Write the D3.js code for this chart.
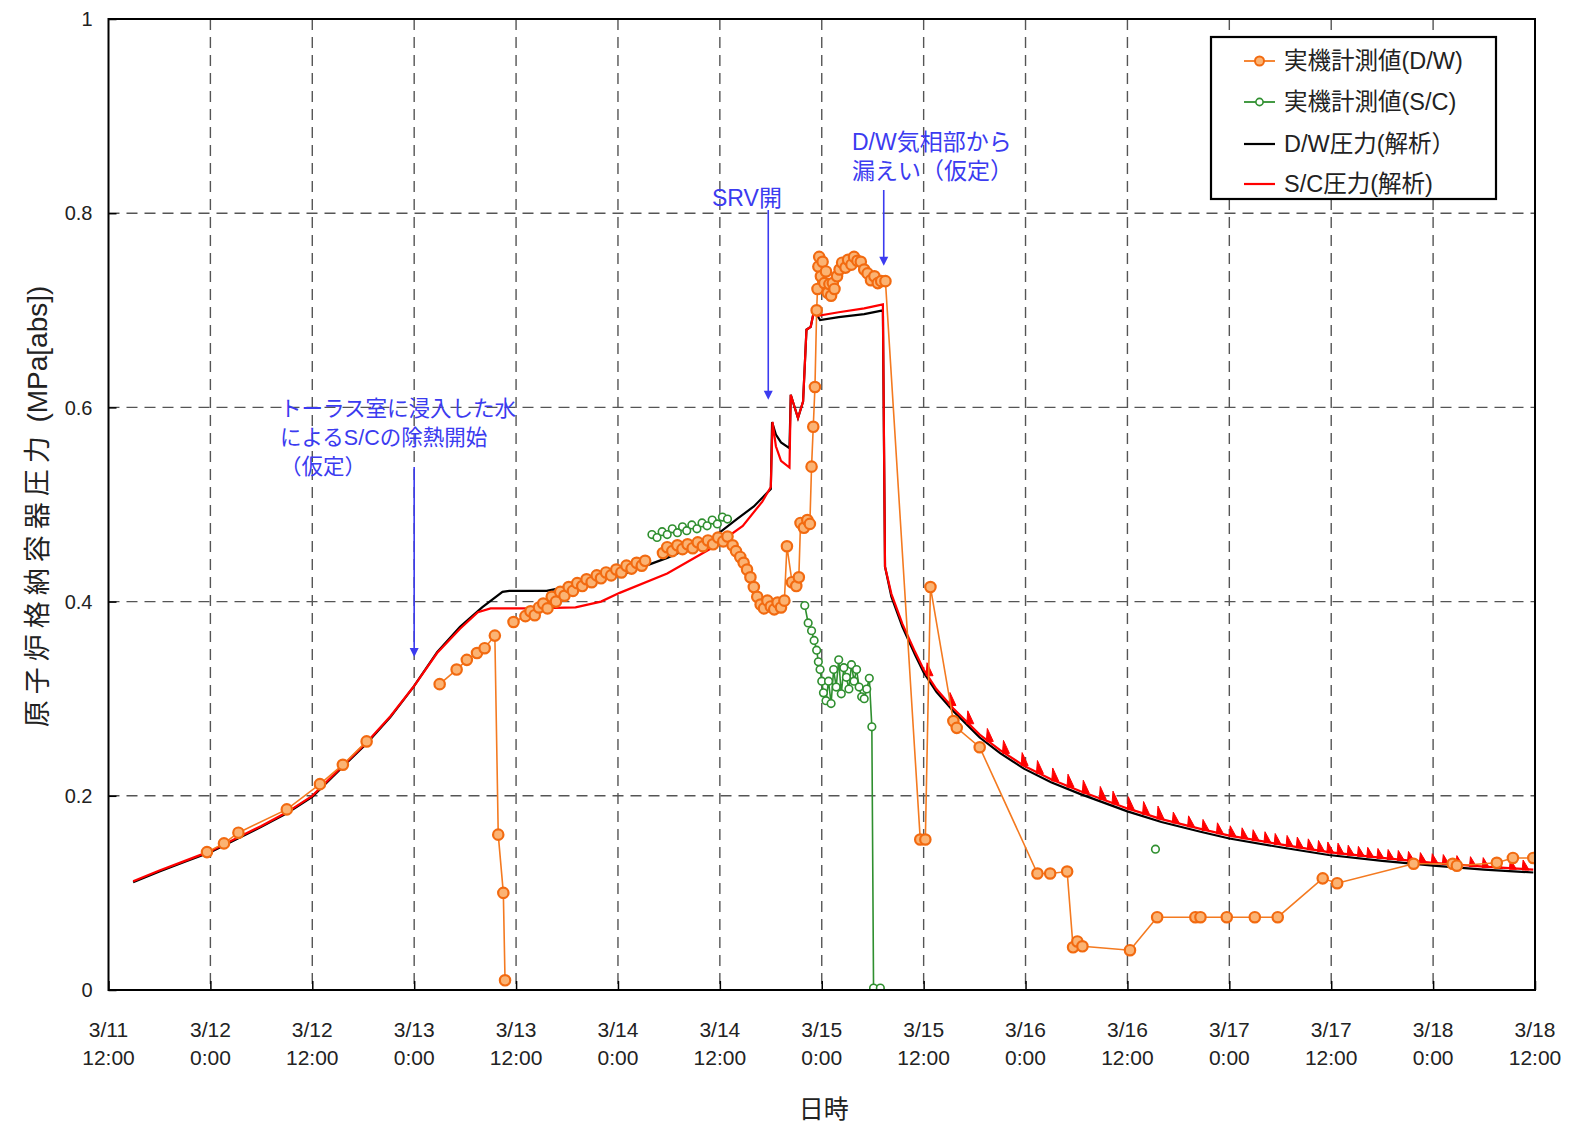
<!DOCTYPE html>
<html><head><meta charset="utf-8">
<script src="https://cdn.jsdelivr.net/npm/d3@7"></script>
<style>body{margin:0;background:#fff}</style>
</head><body>
<svg id="c" width="1576" height="1124"></svg>
<script>
// time: hours elapsed since 3/11 12:00
const xTicks = [0,12,24,36,48,60,72,84,96,108,120,132,144,156,168];
const xTickDates = ["3/11","3/12","3/12","3/13","3/13","3/14","3/14","3/15","3/15","3/16","3/16","3/17","3/17","3/18","3/18"];
const xTickTimes = ["12:00","0:00","12:00","0:00","12:00","0:00","12:00","0:00","12:00","0:00","12:00","0:00","12:00","0:00","12:00"];
const yTicks = [0,0.2,0.4,0.6,0.8,1];
const yTickLabels = ["0","0.2","0.4","0.6","0.8","1"];

const seriesNames = ["実機計測値(D/W)","実機計測値(S/C)","D/W圧力(解析）","S/C圧力(解析)"];

// measured D/W (null = gap)
const dwMeasured = [
 [11.6,0.142],[13.6,0.151],[15.3,0.162],[21.0,0.186],[24.9,0.212],[27.6,0.232],[30.4,0.256],
 null,
 [39.0,0.315],[41.0,0.330],[42.2,0.340],[43.4,0.347],[44.3,0.352],[45.5,0.365],[45.9,0.160],[46.5,0.100],[46.7,0.010],
 null,
 [47.7,0.379],[49.1,0.385],[49.7,0.390],[50.2,0.386],[50.7,0.394],[51.2,0.398],[51.7,0.393],[52.2,0.405],[52.7,0.400],[53.2,0.410],[53.7,0.406],[54.2,0.415],[54.7,0.411],[55.2,0.419],[55.8,0.416],[56.3,0.423],[56.9,0.420],[57.5,0.427],[58.0,0.424],[58.6,0.430],[59.2,0.427],[59.8,0.433],[60.4,0.430],[61.0,0.437],[61.6,0.434],[62.2,0.440],[62.8,0.437],[63.2,0.442],
 null,
 [65.3,0.450],[65.8,0.456],[66.4,0.452],[67.0,0.458],[67.6,0.454],[68.2,0.459],[68.8,0.455],[69.4,0.461],[70.0,0.457],[70.6,0.463],[71.2,0.459],[71.8,0.466],[72.4,0.462],[72.9,0.467],[73.5,0.458],[73.9,0.452],[74.4,0.446],[74.8,0.440],[75.2,0.433],[75.6,0.425],[76.0,0.415],[76.4,0.405],[76.8,0.397],[77.2,0.393],[77.6,0.401],[78.0,0.395],[78.4,0.392],[78.8,0.399],[79.2,0.394],[79.6,0.401],[79.9,0.457],[80.5,0.420],[81.0,0.416],[81.3,0.425],[81.5,0.481],[81.9,0.476],[82.3,0.484],[82.6,0.480],[82.8,0.539],[83.0,0.580],[83.2,0.621],[83.4,0.700],
 [83.5,0.722],[83.6,0.745],[83.7,0.755],[83.9,0.735],[84.1,0.750],[84.3,0.728],[84.5,0.740],[84.7,0.718],[84.9,0.727],[85.1,0.715],[85.3,0.728],[85.5,0.722],[85.8,0.735],[86.1,0.742],[86.4,0.749],[86.8,0.744],[87.1,0.752],[87.5,0.747],[87.8,0.755],[88.2,0.751],[88.6,0.750],[89.0,0.742],[89.4,0.738],[89.8,0.731],[90.2,0.735],[90.6,0.728],[91.0,0.730],[91.5,0.730],
 [95.6,0.155],[96.2,0.155],[96.8,0.415],[99.5,0.277],[99.9,0.270],[102.6,0.250],[109.4,0.120],[110.9,0.120],[112.9,0.122],[113.6,0.044],[114.1,0.050],[114.7,0.045],[120.3,0.041],[123.5,0.075],[128.0,0.075],[128.6,0.075],[131.7,0.075],[135.0,0.075],[137.7,0.075],[143.0,0.115],[144.7,0.110],[153.7,0.130],[158.3,0.130],[158.8,0.128],[163.5,0.131],[165.4,0.136],[167.8,0.136]
];

// measured S/C
const scMeasured = [
 [64.0,0.469],[64.6,0.466],[65.2,0.472],[65.8,0.469],[66.4,0.475],[67.0,0.471],[67.6,0.477],[68.1,0.473],[68.7,0.479],[69.3,0.475],[69.9,0.481],[70.5,0.478],[71.1,0.484],[71.7,0.480],[72.3,0.487],[72.9,0.485],
 null,
 [82.0,0.396],[82.4,0.378],[82.8,0.370],[83.1,0.360],[83.4,0.350],[83.6,0.338],[83.8,0.330],[84.0,0.318],[84.2,0.306],[84.5,0.298],[84.8,0.318],[85.1,0.295],[85.4,0.330],[85.7,0.312],[86.0,0.340],[86.3,0.305],[86.6,0.332],[86.9,0.322],[87.2,0.310],[87.5,0.335],[87.8,0.318],[88.1,0.330],[88.4,0.312],[88.7,0.302],[89.0,0.300],[89.3,0.310],[89.6,0.321],[89.9,0.271],[90.1,0.002],[90.9,0.002],
 null,
 [123.3,0.145]
];

// analysis D/W
const dwAnalysis = [
 [2.9,0.111],[6,0.122],[9,0.132],[12,0.142],[15,0.155],[18,0.168],[21,0.182],[24,0.199],[27.6,0.230],[30.4,0.254],[33.2,0.281],[35.9,0.312],[38.7,0.348],[41.4,0.374],[44.0,0.394],[46.4,0.410],[47.2,0.411],[51.6,0.411],[55,0.417],[60.2,0.427],[65.8,0.445],[71.2,0.466],[74.0,0.485],[76,0.498],[78.0,0.516],[78.15,0.585],[78.6,0.572],[79.2,0.564],[80.2,0.558],[80.35,0.613],[81.2,0.589],[81.8,0.606],[82.2,0.680],[82.7,0.683],[83.1,0.700],[83.8,0.690],[86,0.693],[89,0.696],[91.2,0.700],[91.45,0.436],[92.2,0.405],[93.5,0.374],[95,0.345],[96,0.327],[97.5,0.307],[99.5,0.287],[102.6,0.260],[105,0.244],[107.8,0.228],[111,0.214],[114.4,0.202],[120,0.184],[124,0.173],[128.6,0.163],[132,0.156],[138,0.147],[143.7,0.139],[150,0.133],[156,0.128],[162,0.124],[167.8,0.121]
];

// analysis S/C
const scAnalysis = [
 [2.9,0.112],[6,0.123],[9,0.133],[12,0.143],[15,0.156],[18,0.169],[21,0.183],[24,0.200],[27.6,0.231],[30.4,0.255],[33.2,0.282],[35.9,0.312],[38.7,0.347],[41.4,0.372],[43.5,0.389],[45,0.393],[50,0.393],[55,0.394],[58,0.400],[60.2,0.409],[65.8,0.429],[71.2,0.456],[74.7,0.478],[77,0.503],[78.0,0.518],[78.2,0.585],[78.6,0.560],[79.2,0.545],[80.2,0.538],[80.35,0.613],[81.2,0.589],[81.8,0.606],[82.2,0.680],[82.7,0.683],[83.1,0.700],[83.4,0.694],[86,0.698],[89,0.702],[91.2,0.706],[91.45,0.436],[92.2,0.408],[93.5,0.377],[95,0.348],[96,0.330],[97.5,0.310],[99.5,0.290],[102.6,0.263],[105,0.247],[107.8,0.231],[111,0.217],[114.4,0.205],[120,0.187],[124,0.176],[128.6,0.166],[132,0.159],[138,0.150],[143.7,0.142],[150,0.136],[156,0.131],[162,0.127],[167.8,0.124]
];

// times of the S/C sawtooth pressure spikes
const scSpikeTimes = [96.4,99.1,101.2,103.5,105.4,107.6,109.4,111.2,113.0,114.8,116.8,118.3,120.1,121.9,123.6,125.4,127.2,128.9,130.6,132.1,133.5,134.8,136.2,137.4,138.8,140.0,141.3,142.5,143.6,144.8,146.0,147.2,148.3,149.5,150.7,151.9,153.1,154.5,155.9,157.2,158.8,160.4,161.9,163.5,165.1,166.6];

// annotations
const annoTexts = [["トーラス室に浸入した水","によるS/Cの除熱開始","（仮定）"],["SRV開"],["D/W気相部から","漏えい（仮定）"]];
const annoArrowTimes = [36, 77.7, 91.3];
const annoArrowValues = [0.343, 0.608, 0.746];

const svg = d3.select("#c");
const L=108.5, R=1535, T=19, B=990;
const x = d3.scaleLinear().domain([0,168]).range([L,R]);
const y = d3.scaleLinear().domain([0,1]).range([B,T]);
const FONT = "'Liberation Sans','Noto Sans CJK JP',sans-serif";

// grid
const g = svg.append("g");
g.selectAll(".vg").data(xTicks.slice(1,-1)).enter().append("line")
 .attr("x1",d=>x(d)).attr("x2",d=>x(d)).attr("y1",T).attr("y2",B)
 .attr("stroke","#555").attr("stroke-width",1.4).attr("stroke-dasharray","11,7");
g.selectAll(".hg").data(yTicks.slice(1,-1)).enter().append("line")
 .attr("x1",L).attr("x2",R).attr("y1",d=>y(d)).attr("y2",d=>y(d))
 .attr("stroke","#555").attr("stroke-width",1.4).attr("stroke-dasharray","11,7");

// axes
const xAxis = d3.axisBottom(x).tickValues(xTicks).tickSize(-9).tickFormat("");
const ax = svg.append("g").attr("transform",`translate(0,${B})`).call(xAxis);
ax.select(".domain").remove();
ax.selectAll(".tick line").attr("stroke","#000").attr("stroke-width",1.5);
const yAxis = d3.axisLeft(y).tickValues(yTicks).tickSize(-8).tickFormat("");
const ay = svg.append("g").attr("transform",`translate(${L},0)`).call(yAxis);
ay.select(".domain").remove();
ay.selectAll(".tick line").attr("stroke","#000").attr("stroke-width",1.5);

// tick labels
const xl = svg.append("g").attr("font-family",FONT).attr("font-size",21).attr("fill","#222").attr("text-anchor","middle");
xTicks.forEach((t,i)=>{
  xl.append("text").attr("x",x(t)).attr("y",B+47).text(xTickDates[i]);
  xl.append("text").attr("x",x(t)).attr("y",B+75).text(xTickTimes[i]);
});
const yl = svg.append("g").attr("font-family",FONT).attr("font-size",20).attr("fill","#222").attr("text-anchor","end");
yTicks.forEach((v,i)=>{
  yl.append("text").attr("x",L-16).attr("y",y(v)).attr("dy","0.36em").text(yTickLabels[i]);
});

// axis titles
svg.append("text").attr("x",(L+R)/2+2).attr("y",1118).attr("text-anchor","middle")
 .attr("font-family",FONT).attr("font-size",25).attr("fill","#222").text("日時");
const yt = svg.append("text").attr("transform",`translate(47,${(T+B)/2+2}) rotate(-90)`).attr("text-anchor","middle")
 .attr("font-family",FONT).attr("fill","#222");
yt.append("tspan").attr("font-size",27).attr("letter-spacing",6).text("原子炉格納容器圧力");
yt.append("tspan").attr("font-size",28).text(" (MPa[abs])");

// lines
const line = d3.line().defined(d=>d!==null).x(d=>x(d[0])).y(d=>y(d[1]));
const clipId="pc";
svg.append("clipPath").attr("id",clipId).append("rect").attr("x",L).attr("y",T-10).attr("width",R-L).attr("height",B-T+10);
const plot = svg.append("g").attr("clip-path",`url(#${clipId})`);

plot.append("path").datum(dwAnalysis).attr("d",line).attr("fill","none").attr("stroke","#000").attr("stroke-width",2.2);
plot.append("path").datum(scAnalysis).attr("d",line).attr("fill","none").attr("stroke","#ff0000").attr("stroke-width",2.2);

// spikes on S/C analysis line
const bis = d3.bisector(d=>d[0]).left;
function scAt(t){ const i = Math.max(1,bis(scAnalysis,t)); const a=scAnalysis[i-1], b=scAnalysis[i]; const f=(t-a[0])/(b[0]-a[0]); return a[1]+(b[1]-a[1])*f; }
plot.selectAll(".spk").data(scSpikeTimes).enter().append("path")
 .attr("d",(t,i)=>{ const px=x(t), py=y(scAt(t)); const h = i<15?12:(i<30?10:9); return `M${px-1},${py+1}L${px},${py-h}L${px+6},${py+1}Z`; })
 .attr("fill","#ff0000").attr("stroke","#ff0000").attr("stroke-width",1);

// measured lines
plot.append("path").datum(dwMeasured).attr("d",line).attr("fill","none").attr("stroke","#f47a20").attr("stroke-width",1.6);
plot.selectAll(".om").data(dwMeasured.filter(d=>d)).enter().append("circle")
 .attr("cx",d=>x(d[0])).attr("cy",d=>y(d[1])).attr("r",5.2)
 .attr("fill","#fbb373").attr("stroke","#f26a10").attr("stroke-width",2.2);
plot.append("path").datum(scMeasured).attr("d",line).attr("fill","none").attr("stroke","#2f8f2f").attr("stroke-width",1.6);
plot.selectAll(".gm").data(scMeasured.filter(d=>d)).enter().append("circle")
 .attr("cx",d=>x(d[0])).attr("cy",d=>y(d[1])).attr("r",3.8)
 .attr("fill","#fff").attr("stroke","#2f8f2f").attr("stroke-width",1.6);

// frame
svg.append("rect").attr("x",L).attr("y",T).attr("width",R-L).attr("height",B-T)
 .attr("fill","none").attr("stroke","#000").attr("stroke-width",2);

// annotations
const blue = "#3b3bf0";
const an = svg.append("g").attr("font-family",FONT).attr("fill",blue);
const annoPos = [[280,408,29,21.5],[712,198,0,23],[852,142,29,23]];
annoTexts.forEach((lines,k)=>{
  lines.forEach((s,j)=>{
    an.append("text").attr("x",annoPos[k][0]).attr("y",annoPos[k][1]+j*annoPos[k][2]).attr("dy","0.36em").attr("font-size",annoPos[k][3]).text(s);
  });
});
const arrowTop = [467,210,190];
annoArrowTimes.forEach((t,k)=>{
  const px=x(t), py=y(annoArrowValues[k]);
  svg.append("line").attr("x1",px).attr("x2",px).attr("y1",arrowTop[k]).attr("y2",py-6)
    .attr("stroke",blue).attr("stroke-width",1.6);
  svg.append("path").attr("d",`M${px-4.5},${py-9}L${px+4.5},${py-9}L${px},${py}Z`).attr("fill",blue);
});

// legend
const lg = svg.append("g");
lg.append("rect").attr("x",1211).attr("y",37).attr("width",285).attr("height",162)
 .attr("fill","#fff").attr("stroke","#000").attr("stroke-width",2.2);
const ly = [61,102,144,184];
const lcol = ["#f47a20","#2f8f2f","#000","#ff0000"];
seriesNames.forEach((s,i)=>{
  lg.append("line").attr("x1",1244).attr("x2",1275).attr("y1",ly[i]).attr("y2",ly[i]).attr("stroke",lcol[i]).attr("stroke-width",i<2?1.8:2.2);
  if(i===0) lg.append("circle").attr("cx",1259.5).attr("cy",ly[i]).attr("r",4.5).attr("fill","#fbb373").attr("stroke","#f26a10").attr("stroke-width",2);
  if(i===1) lg.append("circle").attr("cx",1259.5).attr("cy",ly[i]).attr("r",3.6).attr("fill","#fff").attr("stroke","#2f8f2f").attr("stroke-width",1.6);
  lg.append("text").attr("x",1284).attr("y",ly[i]).attr("dy","0.36em").attr("font-family",FONT).attr("font-size",23.5).attr("fill","#222").text(s);
});
</script>
</body></html>
